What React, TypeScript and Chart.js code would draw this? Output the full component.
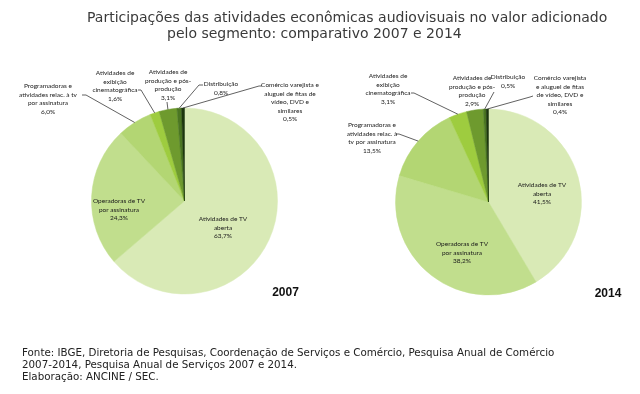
import React, { useEffect, useRef } from 'react';
import { Chart, registerables } from 'chart.js';

Chart.register(...registerables);

// ---- Data ----
const categories = [
  'Atividades de TV aberta',
  'Operadoras de TV por assinatura',
  'Programadoras e atividades relac. à tv por assinatura',
  'Atividades de exibição cinematográfica',
  'Atividades de produção e pós-produção',
  'Distribuição',
  'Comércio varejista e aluguel de fitas de vídeo, DVD e similares',
];
const values2007 = [63.7, 24.3, 6.0, 1.6, 3.1, 0.8, 0.5];
const values2014 = [41.5, 38.2, 13.5, 3.1, 2.9, 0.5, 0.4];

const labelLines2007 = [
  ['Atividades de TV', 'aberta'],
  ['Operadoras de TV', 'por assinatura'],
  ['Programadoras e', 'atividades relac. à tv', 'por assinatura'],
  ['Atividades de', 'exibição', 'cinematográfica'],
  ['Atividades de', 'produção e pós-', 'produção'],
  ['Distribuição'],
  ['Comércio varejista e', 'aluguel de fitas de', 'vídeo, DVD e', 'similares'],
];
const labelLines2014 = [
  ['Atividades de TV', 'aberta'],
  ['Operadoras de TV', 'por assinatura'],
  ['Programadoras e', 'atividades relac. à', 'tv por assinatura'],
  ['Atividades de', 'exibição', 'cinematográfica'],
  ['Atividades de', 'produção e pós-', 'produção'],
  ['Distribuição'],
  ['Comércio varejista', 'e aluguel de fitas', 'de vídeo, DVD e', 'similares'],
];

const titleLines = [
  'Participações das atividades econômicas audiovisuais no valor adicionado',
  'pelo segmento: comparativo 2007 e 2014',
];
const footLines = [
  'Fonte: IBGE, Diretoria de Pesquisas, Coordenação de Serviços e Comércio, Pesquisa Anual de Comércio',
  '2007-2014, Pesquisa Anual de Serviços 2007 e 2014.',
  'Elaboração: ANCINE / SEC.',
];

// ---- Styles / layout ----
const sliceColors = ['#d9eab6', '#c1de8d', '#b3d673', '#9ecc3f', '#6e9a2e', '#4b7622', '#1c360d'];

type Pt = [number, number];
type LabelPos = { x: number; y: number; leader: Pt[] | null };

// positions in canvas coordinates (each canvas is 320x394)
const layout2007: LabelPos[] = [
  { x: 223, y: 219, leader: null },
  { x: 119, y: 201, leader: null },
  { x: 48, y: 86, leader: [[82, 95], [86, 95]] },
  { x: 115, y: 73, leader: [[138, 90], [141, 90]] },
  { x: 168, y: 72, leader: [[167, 102]] },
  { x: 221, y: 84, leader: [[203, 85], [199, 85]] },
  { x: 290, y: 85, leader: [[262, 86], [259, 86]] },
];
const layout2014: LabelPos[] = [
  { x: 222, y: 185, leader: null },
  { x: 142, y: 244, leader: null },
  { x: 52, y: 125, leader: [[76, 134], [79, 134]] },
  { x: 68, y: 76, leader: [[91, 93], [94, 93]] },
  { x: 152, y: 78, leader: null },
  { x: 188, y: 77, leader: [[174, 92]] },
  { x: 240, y: 78, leader: [[213, 96], [210, 97]] },
];

const LINE_H = 8.6;

function fmt(v: number) {
  return v.toFixed(1).replace('.', ',') + '%';
}

function makeLabelPlugin(lines: string[][], layout: LabelPos[], year: string, yearPos: Pt) {
  return {
    id: 'pieLabels',
    afterDatasetsDraw(chart: any) {
      const ctx = chart.ctx;
      const meta = chart.getDatasetMeta(0);
      const data = chart.data.datasets[0].data as number[];
      ctx.save();
      meta.data.forEach((arc: any, i: number) => {
        const p = arc.getProps(['x', 'y', 'startAngle', 'endAngle', 'outerRadius'], true);
        const mid = (p.startAngle + p.endAngle) / 2;
        const ax = p.x + Math.cos(mid) * p.outerRadius;
        const ay = p.y + Math.sin(mid) * p.outerRadius;
        const L = layout[i];
        if (L.leader) {
          ctx.beginPath();
          ctx.strokeStyle = '#3a3a3a';
          ctx.lineWidth = 0.8;
          ctx.moveTo(L.leader[0][0], L.leader[0][1]);
          for (let k = 1; k < L.leader.length; k++) ctx.lineTo(L.leader[k][0], L.leader[k][1]);
          ctx.lineTo(ax, ay);
          ctx.stroke();
        }
        const txt = [...lines[i], fmt(data[i])];
        ctx.fillStyle = '#1a1a1a';
        ctx.font = '6.5px Lato';
        ctx.textAlign = 'center';
        ctx.textBaseline = 'middle';
        txt.forEach((t, k) => ctx.fillText(t, L.x, L.y + k * LINE_H));
      });
      ctx.font = 'bold 12px "Liberation Sans"';
      ctx.fillStyle = '#111';
      ctx.textAlign = 'center';
      ctx.textBaseline = 'middle';
      ctx.fillText(year, yearPos[0], yearPos[1]);
      ctx.restore();
    },
  };
}

function PieCanvas(props: {
  values: number[];
  lines: string[][];
  layout: LabelPos[];
  year: string;
  yearPos: Pt;
  padding: { top: number; bottom: number; left: number; right: number };
  left: number;
}) {
  const ref = useRef<HTMLCanvasElement | null>(null);
  useEffect(() => {
    if (!ref.current) return;
    const chart = new Chart(ref.current, {
      type: 'pie',
      data: {
        labels: categories,
        datasets: [
          {
            data: props.values,
            backgroundColor: sliceColors,
            borderColor: sliceColors,
            borderWidth: 0.5,
          },
        ],
      },
      options: {
        animation: false,
        responsive: false,
        maintainAspectRatio: false,
        radius: 93,
        layout: { padding: props.padding },
        plugins: {
          legend: { display: false },
          tooltip: { enabled: false },
          title: { display: false },
        },
      } as any,
      plugins: [makeLabelPlugin(props.lines, props.layout, props.year, props.yearPos)],
    });
    return () => chart.destroy();
  }, []);
  return (
    <canvas
      ref={ref}
      width={320}
      height={394}
      style={{ position: 'absolute', left: props.left, top: 0, width: 320, height: 394 }}
    />
  );
}

export default function App() {
  const textStyle: React.CSSProperties = {
    position: 'absolute',
    whiteSpace: 'nowrap',
    fontFamily: '"DejaVu Sans", sans-serif',
    color: '#222',
  };
  return (
    <div style={{ position: 'absolute', left: 0, top: 0, width: 640, height: 394, background: '#fff', overflow: 'hidden' }}>
      <PieCanvas
        values={values2007}
        lines={labelLines2007}
        layout={layout2007}
        year="2007"
        yearPos={[285.5, 293]}
        padding={{ top: 108, bottom: 100, left: 91.5, right: 42.5 }}
        left={0}
      />
      <PieCanvas
        values={values2014}
        lines={labelLines2014}
        layout={layout2014}
        year="2014"
        yearPos={[288, 294]}
        padding={{ top: 109, bottom: 99, left: 75.5, right: 58.5 }}
        left={320}
      />
      <div style={{ ...textStyle, left: 87, top: 8, fontSize: 14, lineHeight: '18px', color: '#3a3a3a' }}>{titleLines[0]}</div>
      <div style={{ ...textStyle, left: 167, top: 24, fontSize: 14, lineHeight: '18px', color: '#3a3a3a' }}>{titleLines[1]}</div>
      {footLines.map((t, i) => (
        <div key={i} style={{ ...textStyle, left: 22, top: 346 + i * 12, fontSize: 10.3, lineHeight: '12px' }}>
          {t}
        </div>
      ))}
    </div>
  );
}
